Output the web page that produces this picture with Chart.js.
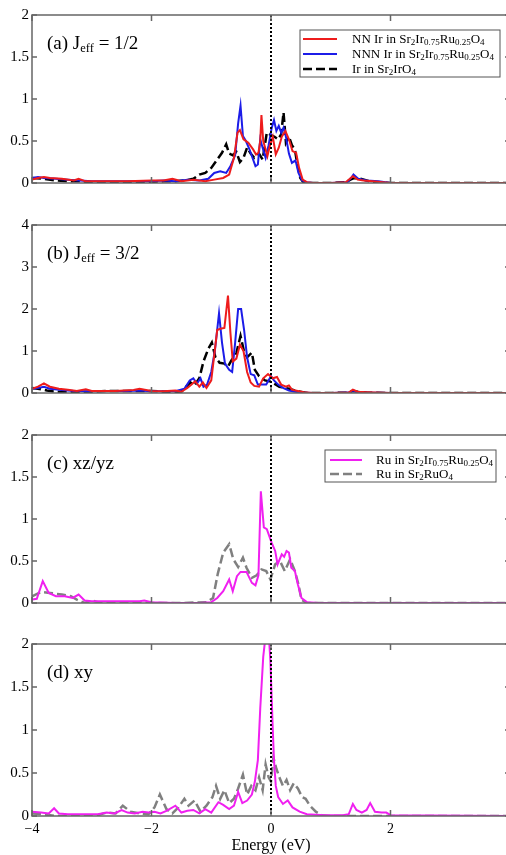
<!DOCTYPE html>
<html>
<head>
<meta charset="utf-8">
<script src="https://cdn.jsdelivr.net/npm/chart.js"></script>
<style>
  html, body { margin: 0; padding: 0; background: #fff; }
  body { width: 506px; height: 855px; overflow: hidden; position: relative; }
  .panel { position: absolute; left: 0; width: 520px; }
</style>
</head>
<body>
<div class="panel" style="top:3px;height:192px"><canvas id="chartA"></canvas></div>
<div class="panel" style="top:213px;height:192px"><canvas id="chartB"></canvas></div>
<div class="panel" style="top:423px;height:192px"><canvas id="chartC"></canvas></div>
<div class="panel" style="top:632px;height:223px"><canvas id="chartD"></canvas></div>
<script>
// energy (eV), DOS pairs

// (a) Jeff = 1/2
const A_NN = [[-4,0.04],[-3.9,0.06],[-3.8,0.07],[-3.7,0.06],[-3.5,0.05],[-3.3,0.03],[-3.22,0.05],[-3.1,0.02],[-2.7,0.02],[-2.4,0.02],[-2.0,0.03],[-1.8,0.03],[-1.65,0.05],[-1.5,0.02],[-1.3,0.04],[-1.1,0.02],[-0.95,0.04],[-0.8,0.06],[-0.7,0.1],[-0.62,0.3],[-0.56,0.6],[-0.52,0.63],[-0.46,0.52],[-0.38,0.48],[-0.3,0.4],[-0.25,0.34],[-0.21,0.36],[-0.18,0.5],[-0.16,0.81],[-0.13,0.5],[-0.09,0.4],[-0.06,0.32],[-0.02,0.44],[0.03,0.55],[0.08,0.34],[0.13,0.42],[0.18,0.55],[0.24,0.62],[0.3,0.52],[0.36,0.38],[0.42,0.36],[0.47,0.18],[0.53,0.04],[0.6,0.01],[0.7,0],[1.0,0],[1.25,0.01],[1.32,0.05],[1.37,0.08],[1.45,0.04],[1.55,0.03],[1.7,0.02],[2.0,0],[4,0]];
const A_NNN = [[-4,0.06],[-3.9,0.07],[-3.8,0.06],[-3.6,0.05],[-3.4,0.04],[-3.2,0.03],[-3.0,0.02],[-2.7,0.02],[-2.4,0.02],[-2.0,0.02],[-1.8,0.03],[-1.6,0.02],[-1.4,0.04],[-1.2,0.03],[-1.05,0.05],[-0.95,0.12],[-0.85,0.14],[-0.75,0.12],[-0.68,0.2],[-0.6,0.33],[-0.55,0.71],[-0.51,0.92],[-0.47,0.56],[-0.42,0.5],[-0.36,0.4],[-0.3,0.28],[-0.26,0.2],[-0.22,0.22],[-0.18,0.52],[-0.14,0.42],[-0.09,0.3],[-0.04,0.45],[0.01,0.65],[0.05,0.75],[0.09,0.62],[0.13,0.68],[0.17,0.6],[0.21,0.66],[0.25,0.55],[0.3,0.35],[0.35,0.24],[0.41,0.27],[0.46,0.12],[0.52,0.03],[0.6,0.01],[0.7,0],[1.0,0],[1.28,0.01],[1.34,0.06],[1.38,0.1],[1.46,0.05],[1.6,0.03],[1.8,0.02],[2.0,0],[4,0]];
const A_IR = [[-4,0.06],[-3.8,0.05],[-3.6,0.03],[-3.4,0.02],[-3.2,0.02],[-3.0,0.01],[-2.4,0.01],[-2.1,0.01],[-1.8,0.02],[-1.6,0.02],[-1.45,0.03],[-1.3,0.05],[-1.2,0.1],[-1.1,0.12],[-1.0,0.18],[-0.9,0.28],[-0.82,0.36],[-0.75,0.46],[-0.7,0.35],[-0.64,0.33],[-0.58,0.37],[-0.52,0.25],[-0.46,0.3],[-0.4,0.42],[-0.34,0.35],[-0.28,0.3],[-0.2,0.35],[-0.14,0.28],[-0.07,0.6],[0.0,0.57],[0.06,0.55],[0.12,0.52],[0.17,0.58],[0.21,0.84],[0.25,0.48],[0.3,0.55],[0.35,0.45],[0.4,0.4],[0.44,0.22],[0.49,0.06],[0.54,0.01],[0.6,0],[1.0,0],[1.25,0.01],[1.33,0.04],[1.4,0.06],[1.5,0.05],[1.6,0.03],[1.7,0.01],[2.0,0],[4,0]];

// (b) Jeff = 3/2
const B_NN = [[-4,0.1],[-3.9,0.15],[-3.8,0.23],[-3.7,0.15],[-3.55,0.1],[-3.4,0.08],[-3.25,0.05],[-3.1,0.09],[-3.0,0.05],[-2.6,0.05],[-2.3,0.07],[-2.2,0.1],[-2.0,0.05],[-1.8,0.04],[-1.6,0.06],[-1.5,0.03],[-1.4,0.12],[-1.33,0.2],[-1.27,0.28],[-1.2,0.15],[-1.14,0.25],[-1.08,0.12],[-1.0,0.3],[-0.95,0.9],[-0.9,1.5],[-0.85,1.53],[-0.78,1.55],[-0.72,2.32],[-0.68,1.45],[-0.64,0.75],[-0.58,0.82],[-0.52,1.15],[-0.46,1.0],[-0.4,0.5],[-0.34,0.25],[-0.28,0.17],[-0.2,0.15],[-0.13,0.35],[-0.05,0.45],[0.03,0.35],[0.1,0.38],[0.17,0.2],[0.25,0.15],[0.3,0.18],[0.35,0.08],[0.45,0.05],[0.55,0.02],[0.7,0],[1.0,0],[1.3,0.01],[1.37,0.08],[1.45,0.03],[1.6,0.02],[2.0,0],[4,0]];
const B_NNN = [[-4,0.1],[-3.9,0.12],[-3.8,0.15],[-3.7,0.1],[-3.5,0.07],[-3.3,0.05],[-3.0,0.04],[-2.7,0.05],[-2.4,0.05],[-2.2,0.06],[-2.0,0.04],[-1.8,0.04],[-1.6,0.04],[-1.45,0.1],[-1.36,0.3],[-1.3,0.35],[-1.24,0.22],[-1.18,0.35],[-1.13,0.15],[-1.07,0.2],[-1.0,0.5],[-0.94,1.0],[-0.87,1.9],[-0.82,1.2],[-0.77,0.7],[-0.7,0.55],[-0.65,0.5],[-0.6,1.2],[-0.55,2.0],[-0.5,2.0],[-0.45,1.5],[-0.4,0.85],[-0.34,0.45],[-0.28,0.42],[-0.22,0.2],[-0.15,0.2],[-0.08,0.2],[0.0,0.4],[0.05,0.3],[0.12,0.2],[0.2,0.12],[0.3,0.06],[0.4,0.03],[0.5,0.01],[0.7,0],[1.0,0],[1.3,0.01],[1.37,0.06],[1.45,0.02],[1.6,0.01],[2.0,0],[4,0]];
const B_IR = [[-4,0.12],[-3.9,0.1],[-3.75,0.06],[-3.6,0.03],[-3.4,0.02],[-3.2,0.02],[-3.0,0.03],[-2.7,0.05],[-2.4,0.05],[-2.0,0.05],[-1.8,0.03],[-1.6,0.01],[-1.5,0.03],[-1.42,0.15],[-1.35,0.25],[-1.28,0.18],[-1.2,0.35],[-1.13,0.75],[-1.05,1.05],[-0.99,1.2],[-0.93,0.85],[-0.86,0.72],[-0.78,0.7],[-0.72,0.63],[-0.66,0.78],[-0.58,0.95],[-0.51,1.36],[-0.45,0.98],[-0.4,0.85],[-0.32,0.96],[-0.27,0.55],[-0.2,0.4],[-0.1,0.3],[0.0,0.27],[0.14,0.15],[0.3,0.1],[0.45,0.04],[0.6,0],[1.0,0],[1.3,0.01],[1.37,0.05],[1.45,0.03],[1.6,0.01],[2.0,0],[4,0]];

// (c) xz/yz
const C_RU = [[-4,0.04],[-3.92,0.05],[-3.82,0.26],[-3.72,0.12],[-3.6,0.08],[-3.45,0.08],[-3.32,0.06],[-3.22,0.1],[-3.12,0.03],[-3.0,0.02],[-2.8,0.02],[-2.5,0.02],[-2.2,0.02],[-2.12,0.03],[-2.0,0.01],[-1.6,0],[-1.2,0],[-1.0,0.01],[-0.9,0.06],[-0.8,0.14],[-0.7,0.28],[-0.64,0.14],[-0.57,0.32],[-0.51,0.37],[-0.41,0.37],[-0.32,0.24],[-0.26,0.21],[-0.21,0.33],[-0.17,1.33],[-0.12,0.9],[-0.07,0.88],[0.01,0.72],[0.07,0.62],[0.11,0.46],[0.18,0.58],[0.22,0.55],[0.26,0.62],[0.3,0.6],[0.34,0.42],[0.4,0.38],[0.45,0.22],[0.51,0.06],[0.6,0.01],[0.8,0],[4,0]];
const C_SRO = [[-4,0.08],[-3.85,0.13],[-3.7,0.12],[-3.5,0.1],[-3.35,0.08],[-3.25,0.04],[-3.12,0],[-3.0,0.03],[-2.9,0.01],[-2.6,0.01],[-2.2,0.01],[-2.0,0],[-1.5,0],[-1.08,0.01],[-0.97,0.06],[-0.89,0.35],[-0.8,0.6],[-0.7,0.7],[-0.63,0.52],[-0.55,0.43],[-0.47,0.54],[-0.41,0.42],[-0.32,0.3],[-0.24,0.33],[-0.16,0.4],[-0.08,0.38],[-0.01,0.28],[0.07,0.46],[0.15,0.5],[0.23,0.38],[0.32,0.52],[0.4,0.38],[0.46,0.22],[0.51,0.04],[0.6,0],[4,0]];

// (d) xy
const D_RU = [[-4,0.05],[-3.85,0.04],[-3.72,0.03],[-3.63,0.09],[-3.55,0.03],[-3.4,0.02],[-3.2,0.02],[-2.9,0.02],[-2.75,0.04],[-2.62,0.03],[-2.5,0.07],[-2.4,0.04],[-2.28,0.03],[-2.15,0.05],[-2.05,0.04],[-1.95,0.05],[-1.85,0.03],[-1.75,0.06],[-1.6,0.12],[-1.5,0.04],[-1.4,0.06],[-1.3,0.07],[-1.2,0.03],[-1.1,0.08],[-1.0,0.04],[-0.88,0.16],[-0.8,0.13],[-0.7,0.08],[-0.62,0.12],[-0.55,0.28],[-0.48,0.15],[-0.4,0.18],[-0.32,0.25],[-0.27,0.4],[-0.22,0.65],[-0.18,1.25],[-0.13,1.85],[-0.09,2.1],[-0.04,2.15],[-0.01,1.8],[0.03,1.0],[0.05,0.65],[0.08,0.35],[0.12,0.22],[0.2,0.14],[0.28,0.18],[0.36,0.1],[0.48,0.05],[0.6,0.02],[0.9,0.01],[1.2,0.01],[1.3,0.02],[1.37,0.14],[1.43,0.07],[1.52,0.04],[1.6,0.07],[1.66,0.15],[1.74,0.05],[1.85,0.04],[1.93,0.04],[2.0,0.01],[4,0]];
const D_SRO = [[-4,0.03],[-3.8,0.02],[-3.6,0],[-3.2,0],[-2.9,0.01],[-2.75,0.04],[-2.6,0.03],[-2.48,0.12],[-2.35,0.05],[-2.2,0.03],[-2.05,0.02],[-1.95,0.1],[-1.86,0.25],[-1.75,0.08],[-1.65,0.03],[-1.55,0.1],[-1.45,0.2],[-1.38,0.12],[-1.28,0.18],[-1.18,0.05],[-1.08,0.12],[-0.98,0.22],[-0.92,0.35],[-0.85,0.2],[-0.78,0.3],[-0.7,0.15],[-0.62,0.2],[-0.55,0.32],[-0.47,0.48],[-0.4,0.25],[-0.33,0.35],[-0.26,0.3],[-0.2,0.45],[-0.14,0.3],[-0.09,0.6],[-0.04,0.45],[0,0.4],[0.04,0.68],[0.09,0.55],[0.14,0.45],[0.2,0.35],[0.26,0.42],[0.32,0.3],[0.38,0.38],[0.45,0.32],[0.52,0.22],[0.58,0.2],[0.65,0.12],[0.75,0.05],[0.85,0.01],[1.0,0],[4,0]];

const X_MIN = -4, X_MAX = 4, X_STEP = 2;
const Y_MAX = { a: 2, b: 4, c: 2, d: 2 };
const Y_STEP = { a: 0.5, b: 1, c: 0.5, d: 0.5 };

const LBL_NN = 'NN Ir in Sr_{2}Ir_{0.75}Ru_{0.25}O_{4}';
const LBL_NNN = 'NNN Ir in Sr_{2}Ir_{0.75}Ru_{0.25}O_{4}';
const LBL_IR = 'Ir in Sr_{2}IrO_{4}';
const LBL_RU = 'Ru in Sr_{2}Ir_{0.75}Ru_{0.25}O_{4}';
const LBL_SRO = 'Ru in Sr_{2}RuO_{4}';

const FONT = "'Liberation Serif', 'Times New Roman', serif";
const RED = '#ee1c1c', BLUE = '#1c1ce8', BLACK = '#000000', MAGENTA = '#f020f0', GRAY = '#808080';

// split "Sr_{2}IrO_{4}" into [text, isSub] pieces
function rich(str) {
    var out = [];
    var re = /_\{([^}]*)\}/g, last = 0, m;
    while ((m = re.exec(str)) !== null) {
        if (m.index > last) out.push([str.slice(last, m.index), false]);
        out.push([m[1], true]);
        last = re.lastIndex;
    }
    if (last < str.length) out.push([str.slice(last), false]);
    return out;
}

function drawRich(ctx, str, x, y, size, subSize, drop) {
    rich(str).forEach(s => {
        ctx.font = (s[1] ? subSize : size) + 'px ' + FONT;
        ctx.fillText(s[0], x, s[1] ? y + drop : y);
        x += ctx.measureText(s[0]).width;
    });
}

function series(arr, color, dash, width) {
    return {
        data: arr.map(p => ({ x: p[0], y: p[1] })),
        borderColor: color,
        borderWidth: width || 2,
        borderDash: dash || [],
        pointRadius: 0,
        fill: false,
        tension: 0
    };
}

const framePlugin = {
    id: 'frame',
    afterDatasetsDraw(chart, args, opts) {
        const ctx = chart.ctx, a = chart.chartArea, x = chart.scales.x, y = chart.scales.y;
        ctx.save();
        // Fermi level
        const x0 = x.getPixelForValue(0);
        ctx.strokeStyle = '#000';
        ctx.lineWidth = 2;
        ctx.setLineDash([2, 2]);
        ctx.beginPath();
        ctx.moveTo(x0, a.top);
        ctx.lineTo(x0, a.bottom);
        ctx.stroke();
        ctx.setLineDash([]);

        // box + inward ticks
        ctx.strokeStyle = '#666';
        ctx.lineWidth = 1.5;
        ctx.strokeRect(a.left, a.top, a.right - a.left, a.bottom - a.top);
        ctx.beginPath();
        x.ticks.forEach(t => {
            const px = x.getPixelForValue(t.value);
            ctx.moveTo(px, a.top); ctx.lineTo(px, a.top + 6);
            ctx.moveTo(px, a.bottom); ctx.lineTo(px, a.bottom - 6);
        });
        y.ticks.forEach(t => {
            const py = y.getPixelForValue(t.value);
            ctx.moveTo(a.left, py); ctx.lineTo(a.left + 5, py);
            ctx.moveTo(a.right, py); ctx.lineTo(a.right - 5, py);
        });
        ctx.stroke();

        // panel label
        ctx.fillStyle = '#000';
        ctx.textBaseline = 'alphabetic';
        drawRich(ctx, opts.label, a.left + 15, a.top + 34, 19, 12.5, 3);

        // legend
        const lg = opts.legend;
        if (lg) {
            const bx = a.left + lg.x, by = a.top + lg.y;
            ctx.fillStyle = '#fff';
            ctx.fillRect(bx, by, lg.w, lg.h);
            ctx.strokeStyle = '#555';
            ctx.lineWidth = 1;
            ctx.strokeRect(bx, by, lg.w, lg.h);
            lg.items.forEach((it, i) => {
                const cy = by + lg.first + i * lg.gap;
                ctx.strokeStyle = it.color;
                ctx.lineWidth = it.width;
                ctx.setLineDash(it.dash);
                ctx.beginPath();
                ctx.moveTo(bx + lg.l0, cy);
                ctx.lineTo(bx + lg.l1, cy);
                ctx.stroke();
                ctx.setLineDash([]);
                ctx.fillStyle = '#000';
                drawRich(ctx, it.text, bx + lg.tx, cy + 4, 13, 9, 2);
            });
        }
        ctx.restore();
    }
};

function makePanel(id, key, datasets, label, legend, showX) {
    new Chart(document.getElementById(id), {
        type: 'line',
        data: { datasets: datasets },
        plugins: [framePlugin],
        options: {
            responsive: true,
            maintainAspectRatio: false,
            animation: false,
            layout: { padding: { top: 10, right: 10, bottom: showX ? 0 : 8, left: 0 } },
            plugins: {
                legend: { display: false },
                tooltip: { enabled: false },
                frame: { label: label, legend: legend }
            },
            scales: {
                x: {
                    type: 'linear',
                    min: X_MIN, max: X_MAX,
                    ticks: {
                        display: showX,
                        stepSize: X_STEP,
                        color: '#000',
                        font: { family: FONT, size: 14 },
                        padding: 5,
                        maxRotation: 0,
                        callback: v => v < 0 ? '\u2212' + Math.abs(v) : String(v)
                    },
                    grid: { display: false, drawTicks: false },
                    border: { display: false },
                    title: {
                        display: showX,
                        text: 'Energy (eV)',
                        color: '#000',
                        font: { family: FONT, size: 16 },
                        padding: { top: 4, bottom: 0 }
                    },
                    afterFit: s => { s.height = showX ? 39 : 0; }
                },
                y: {
                    min: 0, max: Y_MAX[key],
                    ticks: {
                        stepSize: Y_STEP[key],
                        color: '#000',
                        font: { family: FONT, size: 15 },
                        padding: 3,
                        callback: v => String(v)
                    },
                    grid: { display: false, drawTicks: false },
                    border: { display: false },
                    afterFit: s => { s.width = 32; }
                }
            }
        }
    });
}

const irLegend = {
    x: 268, y: 15, w: 200, h: 47, first: 9, gap: 15, l0: 3, l1: 37, tx: 52,
    items: [
        { text: LBL_NN, color: RED, width: 2, dash: [] },
        { text: LBL_NNN, color: BLUE, width: 2, dash: [] },
        { text: LBL_IR, color: BLACK, width: 2.5, dash: [9, 4] }
    ]
};
const ruLegend = {
    x: 293, y: 15, w: 171, h: 32, first: 10, gap: 14, l0: 5, l1: 37, tx: 51,
    items: [
        { text: LBL_RU, color: MAGENTA, width: 2, dash: [] },
        { text: LBL_SRO, color: GRAY, width: 2.5, dash: [9, 4] }
    ]
};

makePanel('chartA', 'a', [
    series(A_NN, RED), series(A_NNN, BLUE), series(A_IR, BLACK, [9, 4], 2.5)
], '(a) J_{eff} = 1/2', irLegend, false);

makePanel('chartB', 'b', [
    series(B_NN, RED), series(B_NNN, BLUE), series(B_IR, BLACK, [9, 4], 2.5)
], '(b) J_{eff} = 3/2', null, false);

makePanel('chartC', 'c', [
    series(C_RU, MAGENTA), series(C_SRO, GRAY, [9, 4], 2.5)
], '(c) xz/yz', ruLegend, false);

makePanel('chartD', 'd', [
    series(D_RU, MAGENTA), series(D_SRO, GRAY, [9, 4], 2.5)
], '(d) xy', null, true);
</script>
</body>
</html>
